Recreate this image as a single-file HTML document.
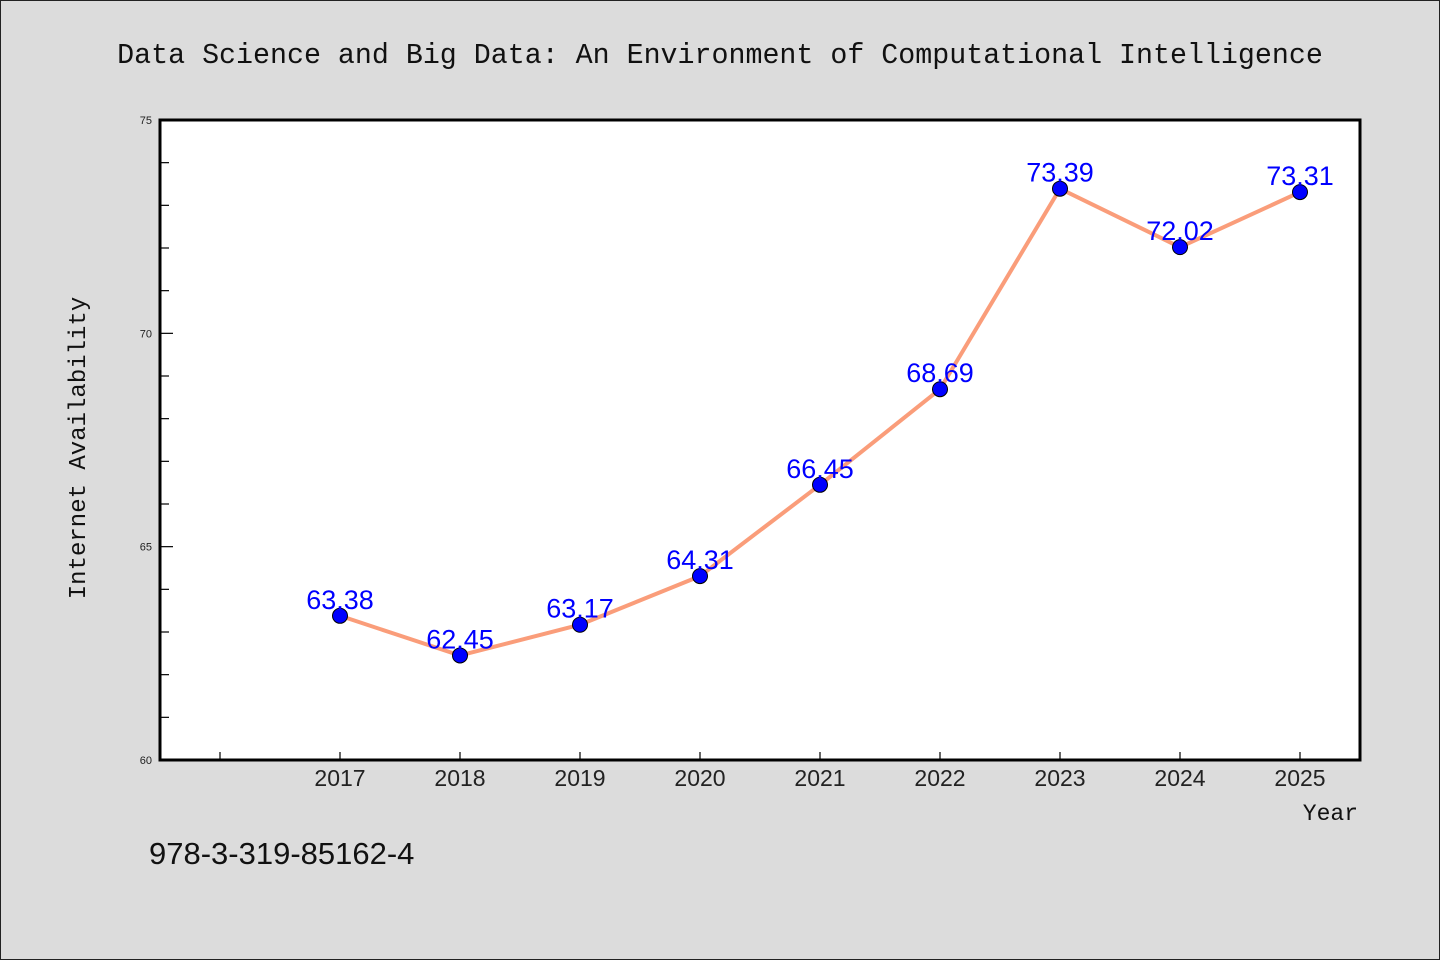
<!DOCTYPE html>
<html><head><meta charset="utf-8"><style>
html,body{margin:0;padding:0;background:#dcdcdc;}
svg{display:block;}
</style></head><body>
<svg id="chart" width="1440" height="960" xmlns="http://www.w3.org/2000/svg">
<rect x="0.5" y="0.5" width="1439" height="959" fill="#dcdcdc" stroke="#222" stroke-width="1"/>
<text x="720" y="63" text-anchor="middle" font-family="Liberation Mono, WenQuanYi Zen Hei, monospace" font-size="28.3" fill="#111">Data Science and Big Data: An Environment of Computational Intelligence</text>
<rect x="160" y="120" width="1200" height="640" fill="#fff"/>
<g id="yticks"></g><g id="xticks"></g>
<g id="series"></g>
<rect x="160" y="120" width="1200" height="640" fill="none" stroke="#000" stroke-width="3"/>
<text transform="translate(85,448) rotate(-90)" text-anchor="middle" font-family="Liberation Mono, WenQuanYi Zen Hei, monospace" font-size="24" fill="#111">Internet Availability</text>
<text x="1358" y="820" text-anchor="end" font-family="Liberation Mono, WenQuanYi Zen Hei, monospace" font-size="23" fill="#111">Year</text>
<text x="149" y="864" font-family="WenQuanYi Zen Hei, Liberation Sans, sans-serif" font-size="31" fill="#111">978-3-319-85162-4</text>
</svg>
<script>
const years=[2017,2018,2019,2020,2021,2022,2023,2024,2025];
const values=[63.38,62.45,63.17,64.31,66.45,68.69,73.39,72.02,73.31];
const yMajor=[60,65,70,75];
const yMinor=[61,62,63,64,66,67,68,69,71,72,73,74];
const xTickYears=[2016,2017,2018,2019,2020,2021,2022,2023,2024,2025];
const NS='http://www.w3.org/2000/svg';
const X=v=>160+(v-2015.5)*120;
const Y=v=>760-(v-60)/15*640;
function mk(t,a,p){const e=document.createElementNS(NS,t);for(const k in a)e.setAttribute(k,a[k]);p.appendChild(e);return e;}
const yt=document.getElementById('yticks'),xt=document.getElementById('xticks'),se=document.getElementById('series');
yMajor.forEach(v=>{
 const l=mk('line',{x1:160,x2:173,y1:Y(v),y2:Y(v),stroke:'#000','stroke-width':1.2},yt);
 
 
 const t=mk('text',{x:152,y:Y(v)+4,'text-anchor':'end','font-family':'WenQuanYi Zen Hei, Liberation Sans, sans-serif','font-size':11,fill:'#222'},yt);
 t.textContent=v;
 
 
});
yMinor.forEach(v=>{
 const l=mk('line',{x1:160,x2:169,y1:Y(v),y2:Y(v),stroke:'#000','stroke-width':1.2},yt);
 
 
});
xTickYears.forEach(v=>{
 const l=mk('line',{x1:X(v),x2:X(v),y1:760,y2:752,stroke:'#000','stroke-width':1.2},xt);
 
 
 if(years.includes(v)){
  const t=mk('text',{x:X(v),y:786,'text-anchor':'middle','font-family':'WenQuanYi Zen Hei, Liberation Sans, sans-serif','font-size':23,fill:'#222'},xt);
  t.textContent=v;
  
  
 }
});
const pl=mk('polyline',{points:years.map((y,i)=>X(y)+','+Y(values[i])).join(' '),fill:'none',stroke:'#fa9d7a','stroke-width':4,'stroke-linejoin':'round'},se);


years.forEach((y,i)=>{
 const c=mk('circle',{cx:X(y),cy:Y(values[i]),r:7.5,fill:'#0000ff',stroke:'#000','stroke-width':1},se);
 
 
 const t=mk('text',{x:X(y),y:Y(values[i])-7,'text-anchor':'middle','font-family':'WenQuanYi Zen Hei, Liberation Sans, sans-serif','font-size':27,fill:'#0000ff'},se);
 t.textContent=values[i].toFixed(2);
 
 
});
</script>
</body></html>
